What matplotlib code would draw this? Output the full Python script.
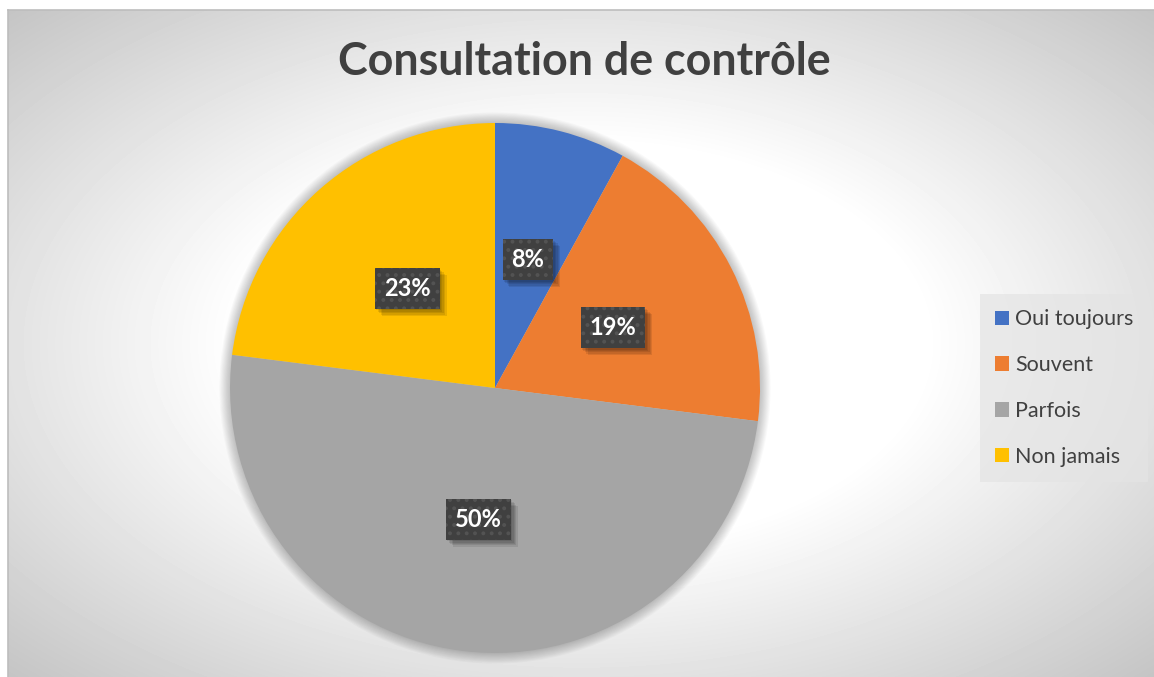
import numpy as np
import matplotlib
matplotlib.use('Agg')
import matplotlib.pyplot as plt
import matplotlib.patheffects as pe
from matplotlib.patches import Circle

W, H = 1154, 677

title = 'Consultation de contrôle'
categories = ['Oui toujours', 'Souvent', 'Parfois', 'Non jamais']
values = [8, 19, 50, 23]
colors = ['#4472C4', '#ED7D31', '#A5A5A5', '#FFC000']

plt.rcParams['font.family'] = ['Lato', 'DejaVu Sans']
plt.rcParams['hatch.linewidth'] = 1.6

fig = plt.figure(figsize=(W / 100, H / 100), dpi=100)
fig.patch.set_facecolor('white')

# chart area with radial gradient
bg = fig.add_axes([8 / W, 0, 1 - 8 / W, 1 - 10 / H])
yy, xx = np.mgrid[0:667, 0:1146]
d = np.sqrt(((xx - 573) / 573.0) ** 2 + ((yy - 333) / 333.0) ** 2)
g = np.clip(255 - 72 * (d - 0.6), 190, 255) / 255.0
bg.imshow(g, cmap='gray', vmin=0, vmax=1, aspect='auto', interpolation='bilinear')
bg.set_xticks([])
bg.set_yticks([])
for s in ['right', 'bottom']:
    bg.spines[s].set_visible(False)
for s in ['top', 'left']:
    bg.spines[s].set_color('#bdbdbd')
    bg.spines[s].set_linewidth(1.2)

# pie
R = 265
ax = fig.add_axes([(495 - 300) / W, (H - 388 - 300) / H, 600 / W, 600 / H])
for k in range(10):
    ax.add_patch(Circle((0, 0), 1 + 0.004 * (k + 1), color='black', alpha=0.025, lw=0, zorder=0))
wedges, texts, autotexts = ax.pie(values, colors=colors, startangle=90, counterclock=False,
                                  autopct='%1.0f%%', pctdistance=0.5, radius=1,
                                  wedgeprops=dict(linewidth=0))
ax.set_xlim(-300 / R, 300 / R)
ax.set_ylim(-300 / R, 300 / R)
ax.axis('off')

# data labels: plain box with soft shadow underneath, hatched box with text on top
shadow = [pe.SimplePatchShadow(offset=(o, -o), shadow_rgbFace='black', alpha=0.09) for o in (1, 2, 3, 4, 5)]
for t in autotexts:
    x, y = t.get_position()
    t.set_color('none')
    t.set_fontweight('bold')
    t.set_fontsize(17)
    t.set_bbox(dict(boxstyle='square,pad=0.38', fc='#404040', lw=0))
    t.get_bbox_patch().set_path_effects(shadow + [pe.Normal()])
    ax.text(x, y, t.get_text(), ha='center', va='center', color='white', fontsize=17,
            fontweight='bold', zorder=5,
            bbox=dict(boxstyle='square,pad=0.38', fc='#404040', ec='#535353', lw=0, hatch='..'))

fig.text(584 / W, 1 - 62 / H, title, ha='center', va='center', fontsize=32.3,
         fontweight='bold', color='#404040')

leg = fig.legend(wedges, categories, loc='center', bbox_to_anchor=(1064 / W, 1 - 388 / H),
                 frameon=True, facecolor='#e4e4e4', edgecolor='none', fancybox=False,
                 fontsize=15.5, labelcolor='#404040', handlelength=0.65, handleheight=0.65,
                 handletextpad=0.3, labelspacing=1.2, borderpad=0.7)
leg.get_frame().set_alpha(0.7)

fig.savefig('out.png', dpi=100)
